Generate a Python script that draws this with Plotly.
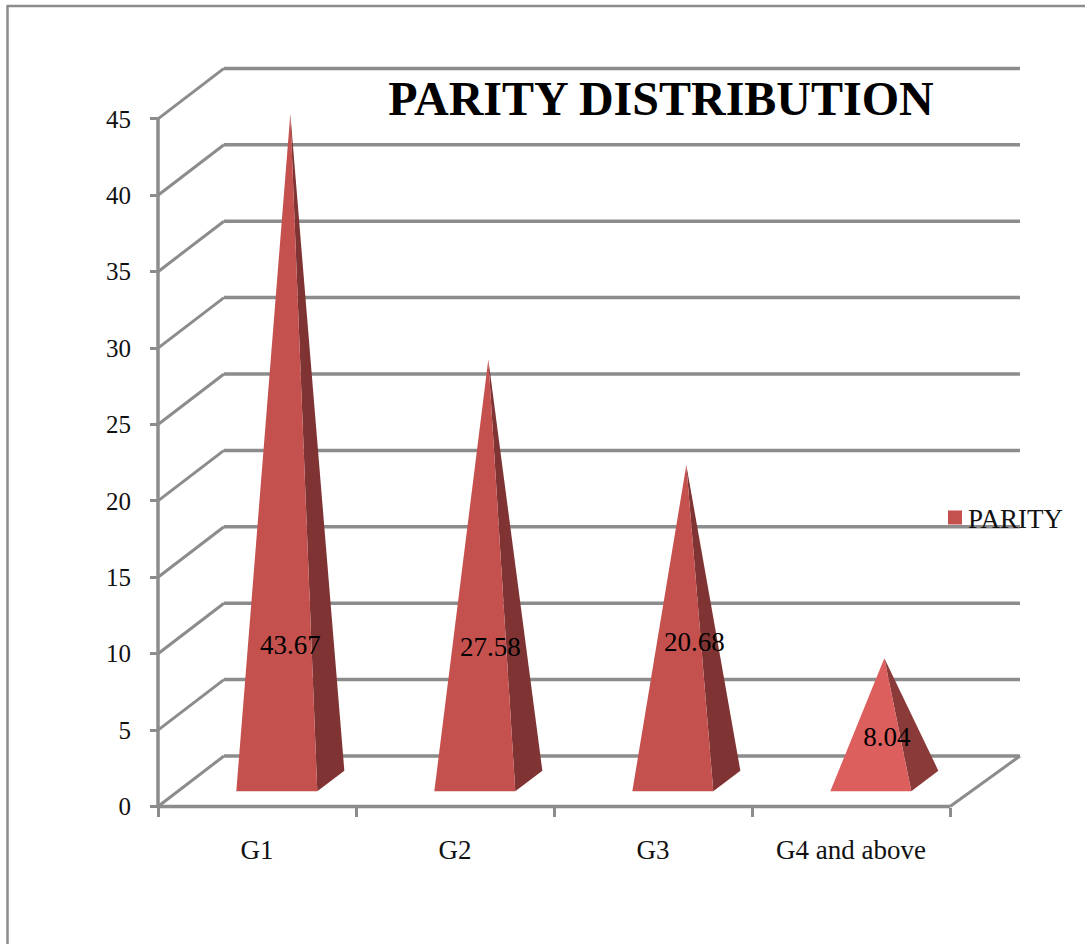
import plotly.graph_objects as go

categories = ["G1", "G2", "G3", "G4 and above"]
parity = [43.67, 27.58, 20.68, 8.04]
value_labels = ["43.67", "27.58", "20.68", "8.04"]
y_ticks = [0, 5, 10, 15, 20, 25, 30, 35, 40, 45]
front_colors = ["#c5514f", "#c5514f", "#c5514f", "#dc5f5e"]
side_colors = ["#7f3433", "#7f3433", "#7f3433", "#8a3a39"]
label_levels = [10.43, 10.3, 10.65, 4.37]
label_nudges = [0.0, 0.01, 0.04, 0.013]

WIDTH, HEIGHT = 1085, 944
SERIF = "Liberation Serif, Times New Roman, serif"
GRID = "#8c8c8c"
TEXT_SIZE = 27

# Pixel scale of the plot: one category is 198 px wide, one value unit 15.28 px tall.
X_UNIT, Y_UNIT = 198.0, 15.28
X_ORIGIN, Y_ORIGIN = 158.0, 806.5

# Oblique depth of the chart box, in data units.
DEPTH_X, DEPTH_Y = 1 / 3, 50.5 / Y_UNIT
RIGHT_DEPTH_X = 70 / X_UNIT

# Pyramid footprint, expressed as a fraction of the box depth.
BASE_HALF = 0.2045
BASE_NEAR, BASE_FAR = 0.30, 0.71


def project(x, value, depth):
    return x + depth * DEPTH_X, value + depth * DEPTH_Y


def add_line(fig, xs, ys, width=3.5):
    fig.add_trace(go.Scatter(x=xs, y=ys, mode="lines", showlegend=False, hoverinfo="skip",
                             line=dict(color=GRID, width=width)))


fig = go.Figure()

# Back wall grid and left wall diagonals.
n_cats = len(categories)
for tick in y_ticks:
    add_line(fig, [DEPTH_X, n_cats + RIGHT_DEPTH_X], [tick + DEPTH_Y, tick + DEPTH_Y])
    add_line(fig, [0, DEPTH_X], [tick, tick + DEPTH_Y], width=3)

# Front edges of the box: value axis, category axis and right edge of the floor.
add_line(fig, [0, 0], [0, y_ticks[-1]])
add_line(fig, [0, n_cats], [0, 0])
add_line(fig, [n_cats, n_cats + RIGHT_DEPTH_X], [0, DEPTH_Y], width=3)

# One pyramid per category: a front face and a right-hand side face.
for i, value in enumerate(parity):
    centre = i + 0.5
    near_left = project(centre - BASE_HALF, 0, BASE_NEAR)
    near_right = project(centre + BASE_HALF, 0, BASE_NEAR)
    far_right = project(centre + BASE_HALF, 0, BASE_FAR)
    mid_depth = (BASE_NEAR + BASE_FAR) / 2
    apex = project(centre, value, mid_depth)

    fig.add_trace(go.Scatter(
        x=[near_right[0], far_right[0], apex[0], near_right[0]],
        y=[near_right[1], far_right[1], apex[1], near_right[1]],
        mode="lines", fill="toself", fillcolor=side_colors[i],
        line=dict(width=0, color=side_colors[i]), showlegend=False,
        hoverinfo="skip"))
    fig.add_trace(go.Scatter(
        x=[near_left[0], near_right[0], apex[0], near_left[0]],
        y=[near_left[1], near_right[1], apex[1], near_left[1]],
        mode="lines", fill="toself", fillcolor=front_colors[i],
        line=dict(width=0, color=front_colors[i]), showlegend=False,
        name=categories[i], text=str(value), hoverinfo="name+text"))

# Value labels sit on the pyramids.
mid = (BASE_NEAR + BASE_FAR) / 2
fig.add_trace(go.Scatter(
    x=[i + 0.5 + mid * DEPTH_X + label_nudges[i] for i in range(n_cats)],
    y=label_levels, text=value_labels, mode="text", textposition="middle center",
    textfont=dict(family=SERIF, size=TEXT_SIZE, color="#000000"),
    showlegend=False, hoverinfo="skip"))

# Legend entry for the series; the standoff brings the swatch closer to its text.
fig.add_trace(go.Scatter(
    x=[None], y=[None], mode="markers", name="PARITY",
    marker=dict(symbol="square", size=14, color="#c5514f", angle=90, standoff=7)))

fig.update_layout(
    width=WIDTH, height=HEIGHT, autosize=False,
    margin=dict(l=0, r=0, t=0, b=0),
    paper_bgcolor="#ffffff", plot_bgcolor="#ffffff",
    font=dict(family=SERIF, size=TEXT_SIZE, color="#111111"),
    title=dict(text="<b>PARITY DISTRIBUTION</b>", font=dict(family=SERIF, size=48, color="#000000"),
               x=661 / WIDTH, xref="paper", xanchor="center",
               y=1 - 98 / HEIGHT, yref="paper", yanchor="middle"),
    xaxis=dict(
        range=[-X_ORIGIN / X_UNIT, (WIDTH - X_ORIGIN) / X_UNIT],
        domain=[0, 1], anchor="free", position=(HEIGHT - Y_ORIGIN) / HEIGHT,
        showgrid=False, zeroline=False, showline=False,
        tickmode="array", tickvals=[i + 0.5 for i in range(n_cats)], ticktext=categories,
        ticks="outside", ticklen=19, tickcolor="rgba(0,0,0,0)",
        tickfont=dict(family=SERIF, size=TEXT_SIZE, color="#111111"),
        minor=dict(tickmode="array", tickvals=list(range(n_cats + 1)),
                   ticks="outside", ticklen=9, tickwidth=2.5, tickcolor=GRID),
    ),
    yaxis=dict(
        range=[(Y_ORIGIN - HEIGHT) / Y_UNIT, Y_ORIGIN / Y_UNIT],
        domain=[0, 1], anchor="free", position=X_ORIGIN / WIDTH,
        showgrid=False, zeroline=False, showline=False,
        tickmode="array", tickvals=y_ticks,
        ticks="outside", ticklen=8, tickwidth=2.5, tickcolor=GRID,
        ticklabelstandoff=14,
        tickfont=dict(family=SERIF, size=25, color="#111111"),
    ),
    legend=dict(x=935 / WIDTH, y=1 - 518 / HEIGHT, xanchor="left", yanchor="middle",
                bgcolor="rgba(0,0,0,0)", borderwidth=0, indentation=-7,
                font=dict(family=SERIF, size=TEXT_SIZE, color="#111111")),
    shapes=[
        # Outer frame of the chart: left and top edges only reach the page.
        dict(type="line", xref="paper", yref="paper", x0=7.5 / WIDTH, x1=7.5 / WIDTH,
             y0=0, y1=1 - 6 / HEIGHT, line=dict(color=GRID, width=2.5)),
        dict(type="line", xref="paper", yref="paper", x0=6.5 / WIDTH, x1=1,
             y0=1 - 6 / HEIGHT, y1=1 - 6 / HEIGHT, line=dict(color=GRID, width=2.5)),
    ],
)

fig.write_html("out.html", config=dict(displayModeBar=False))
